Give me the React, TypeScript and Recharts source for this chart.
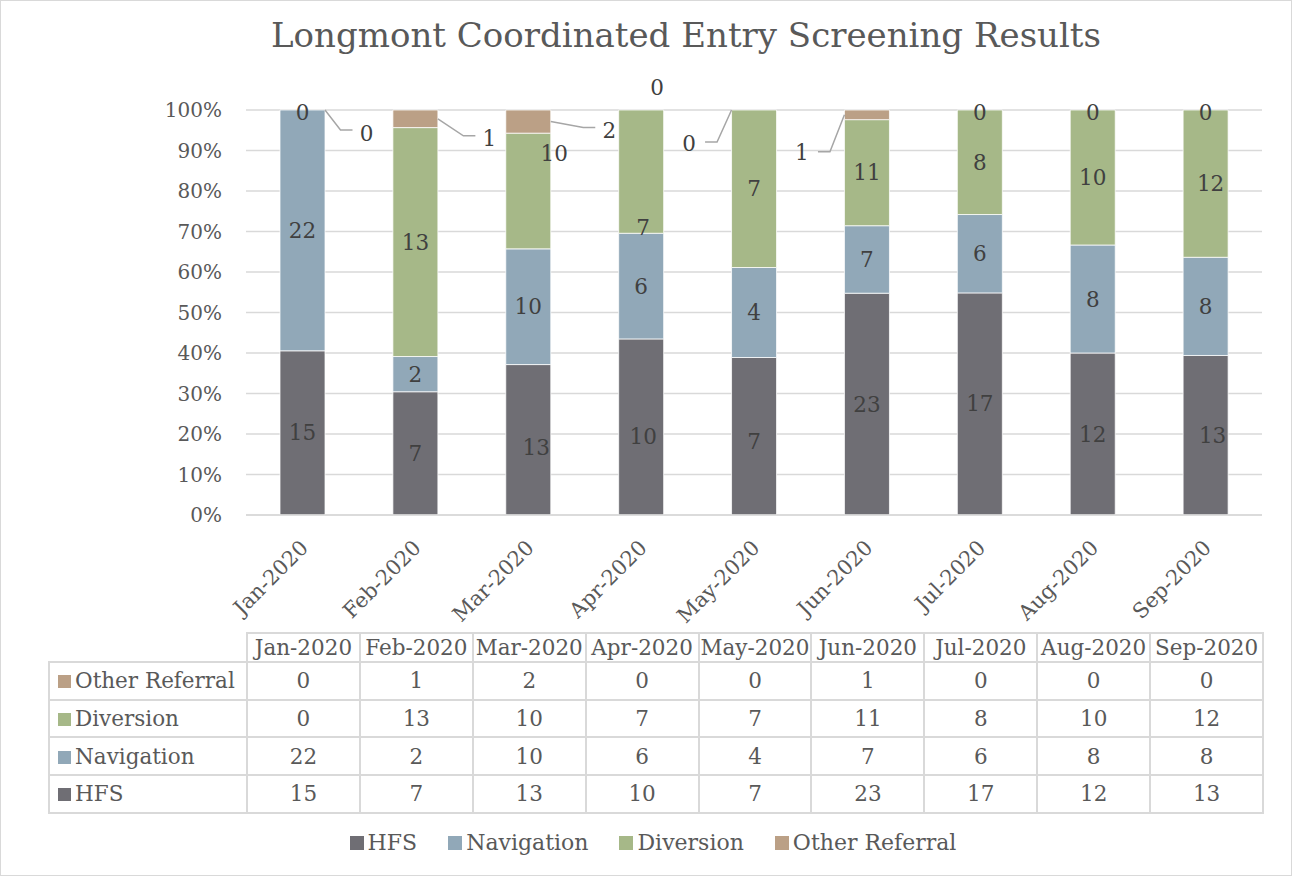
import React from 'react'
import { BarChart, Bar, XAxis, YAxis, CartesianGrid, LabelList } from 'recharts'

const months = ['Jan-2020', 'Feb-2020', 'Mar-2020', 'Apr-2020', 'May-2020', 'Jun-2020', 'Jul-2020', 'Aug-2020', 'Sep-2020']
const hfs = [15, 7, 13, 10, 7, 23, 17, 12, 13]
const navigation = [22, 2, 10, 6, 4, 7, 6, 8, 8]
const diversion = [0, 13, 10, 7, 7, 11, 8, 10, 12]
const otherReferral = [0, 1, 2, 0, 0, 1, 0, 0, 0]
const yTicks = [0, 0.1, 0.2, 0.3, 0.4, 0.5, 0.6, 0.7, 0.8, 0.9, 1]

const FONT = '"DejaVu Serif", serif'
const AXIS_TEXT = '#595959'
const LABEL_TEXT = '#404040'
const GRID = '#d9d9d9'

const series = [
  { key: 'hfs', name: 'HFS', color: '#6f6e74', values: hfs },
  { key: 'navigation', name: 'Navigation', color: '#91a8b8', values: navigation },
  { key: 'diversion', name: 'Diversion', color: '#a6b888', values: diversion },
  { key: 'other', name: 'Other Referral', color: '#bba086', values: otherReferral },
]

const data = months.map((m, i) => ({
  month: m,
  hfs: hfs[i],
  navigation: navigation[i],
  diversion: diversion[i],
  other: otherReferral[i],
}))

// labels that were dragged around in the original (offsets from the segment centre)
const labelMoves: Record<string, { dx: number; dy: number; leader?: boolean }> = {
  'other-0': { dx: 64, dy: 23, leader: true },
  'other-1': { dx: 74, dy: 20, leader: true },
  'other-2': { dx: 81, dy: 9, leader: true },
  'other-3': { dx: 16, dy: -23 },
  'other-4': { dx: -65, dy: 33, leader: true },
  'other-5': { dx: -65, dy: 38, leader: true },
  'other-6': { dx: 0, dy: 2 },
  'other-7': { dx: 0, dy: 2 },
  'other-8': { dx: 0, dy: 2 },
  'diversion-0': { dx: 0, dy: 2 },
  'diversion-2': { dx: 26, dy: -38 },
  'diversion-3': { dx: 2, dy: 56 },
  'diversion-8': { dx: 5, dy: 0 },
  'hfs-2': { dx: 8, dy: 8 },
  'hfs-3': { dx: 2, dy: 10 },
  'hfs-4': { dx: 0, dy: 5 },
  'hfs-8': { dx: 7, dy: 0 },
}

function OneLabel({ seriesKey, month, cx, cy, left, right, value }: any) {
  const move = labelMoves[`${seriesKey}-${month}`]
  const lx = cx + (move ? move.dx : 0)
  const ly = cy + (move ? move.dy : 0)
  let leader = null
  if (move && move.leader) {
    const toRight = move.dx > 0
    const pts = toRight
      ? `${right},${cy} ${lx - 26},${ly - 3} ${lx - 14},${ly - 3}`
      : `${left},${cy} ${lx + 28},${ly - 1} ${lx + 16},${ly - 1}`
    leader = <polyline points={pts} fill="none" stroke="#a6a6a6" strokeWidth={1.5} />
  }
  return (
    <g>
      {leader}
      <text x={lx} y={ly} textAnchor="middle" dominantBaseline="central"
        fontFamily={FONT} fontSize={21.5} fill={LABEL_TEXT}>
        {value}
      </text>
    </g>
  )
}

// label for one segment, plus the labels of any zero-valued series stacked right above it
function SegmentLabel(props: any) {
  const { x, y, width, height, seriesIndex } = props
  const left = Number(x)
  const right = left + Number(width)
  const top = Number(y)
  const cx = left + Number(width) / 2
  let month = props.payload && props.payload.month ? months.indexOf(props.payload.month) : -1
  if (month < 0) month = Math.round((cx - 302.45) / 112.89)
  const s = series[seriesIndex]
  const out = [
    <OneLabel key={s.key} seriesKey={s.key} month={month} cx={cx} cy={top + Number(height) / 2}
      left={left} right={right} value={s.values[month]} />,
  ]
  for (let j = seriesIndex + 1; j < series.length && series[j].values[month] === 0; j++) {
    out.push(
      <OneLabel key={series[j].key} seriesKey={series[j].key} month={month} cx={cx} cy={top}
        left={left} right={right} value={0} />
    )
  }
  return <g>{out}</g>
}

function MonthTick(props: any) {
  const { x, y, payload } = props
  const ax = x + 7
  const ay = y + 34
  return (
    <text x={ax} y={ay} transform={`rotate(-45, ${ax}, ${ay})`} textAnchor="end"
      fontFamily={FONT} fontSize={21} fill={AXIS_TEXT}>
      {payload.value}
    </text>
  )
}

const cellBorder = `2px solid ${GRID}`

function DataTable() {
  const rows = [...series].reverse()
  return (
    <table style={{
      position: 'absolute', left: 48, top: 632, borderCollapse: 'collapse', tableLayout: 'fixed',
      width: 1214, fontFamily: FONT, fontSize: 21.5, color: AXIS_TEXT,
    }}>
      <colgroup>
        <col style={{ width: 198 }} />
        {months.map(m => <col key={m} style={{ width: 112.9 }} />)}
      </colgroup>
      <tbody>
        <tr style={{ height: 29 }}>
          <td style={{ border: 'none', borderBottom: cellBorder }} />
          {months.map(m => (
            <td key={m} style={{ border: cellBorder, textAlign: 'center', padding: 0, whiteSpace: 'nowrap' }}>{m}</td>
          ))}
        </tr>
        {rows.map(s => (
          <tr key={s.key} style={{ height: 37.7 }}>
            <td style={{ border: cellBorder, padding: '0 0 0 8px', whiteSpace: 'nowrap' }}>
              <span style={{ display: 'inline-block', width: 13, height: 13, background: s.color, marginRight: 4 }} />
              {s.name}
            </td>
            {s.values.map((v, i) => (
              <td key={i} style={{ border: cellBorder, textAlign: 'center', padding: 0 }}>{v}</td>
            ))}
          </tr>
        ))}
      </tbody>
    </table>
  )
}

function BottomLegend() {
  return (
    <div style={{
      position: 'absolute', left: 0, top: 830, width: 1292, display: 'flex', justifyContent: 'center',
      gap: 31, fontFamily: FONT, fontSize: 22, color: AXIS_TEXT, paddingLeft: 14, boxSizing: 'border-box',
    }}>
      {series.map(s => (
        <div key={s.key} style={{ display: 'flex', alignItems: 'center' }}>
          <span style={{ display: 'inline-block', width: 14, height: 14, background: s.color, marginRight: 4 }} />
          <span>{s.name}</span>
        </div>
      ))}
    </div>
  )
}

export default function App() {
  return (
    <div style={{ position: 'absolute', left: 0, top: 0, width: 1292, height: 876, background: '#fff' }}>
      <div style={{
        position: 'absolute', left: 186, top: 18, width: 1000, textAlign: 'center',
        fontFamily: FONT, fontSize: 34, lineHeight: '34px', color: AXIS_TEXT,
      }}>
        Longmont Coordinated Entry Screening Results
      </div>
      <div style={{ position: 'absolute', left: 0, top: 0 }}>
        <BarChart width={1292} height={632} data={data} stackOffset="expand"
          margin={{ top: 110, right: 30, left: 0, bottom: 0 }}>
          <CartesianGrid vertical={false} stroke={GRID} strokeWidth={1.5} />
          <XAxis dataKey="month" height={117} tickSize={0} tickMargin={0} interval={0}
            axisLine={{ stroke: GRID, strokeWidth: 1.5 }} tickLine={false} tick={<MonthTick />} />
          <YAxis type="number" domain={[0, 1]} ticks={yTicks} width={246} tickSize={0} tickMargin={24}
            axisLine={false} tickLine={false} interval={0}
            tickFormatter={(v: number) => `${Math.round(v * 100)}%`}
            tick={{ fontFamily: FONT, fontSize: 20, fill: AXIS_TEXT }} />
          {series.map((s, si) => (
            <Bar key={s.key} dataKey={s.key} name={s.name} stackId="a" fill={s.color} barSize={45}
              stroke="#ffffff" strokeWidth={0.75} isAnimationActive={false}>
              <LabelList dataKey={s.key} content={(p: any) => <SegmentLabel {...p} seriesIndex={si} />} />
            </Bar>
          ))}
        </BarChart>
      </div>
      <DataTable />
      <BottomLegend />
      <div style={{
        position: 'absolute', left: 0, top: 0, width: 1292, height: 876, boxSizing: 'border-box',
        border: `1px solid ${GRID}`, pointerEvents: 'none',
      }} />
    </div>
  )
}
